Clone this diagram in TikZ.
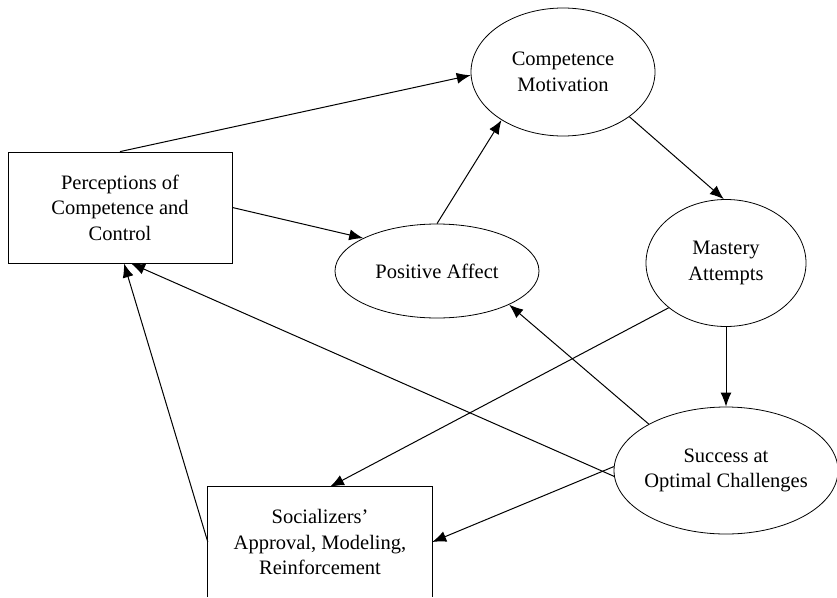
\documentclass[tikz,border=0pt]{standalone}
\usepackage{fontspec}
\setmainfont{Liberation Serif}
\usetikzlibrary{shapes.geometric,arrows.meta,calc}
\begin{document}
\begin{tikzpicture}[x=1pt,y=-1pt,
  every node/.style={font=\fontsize{20.5}{25.5}\selectfont, align=center, inner sep=0pt},
  oval/.style={draw, ellipse, line width=0.8pt, inner xsep=-6pt},
  box/.style={draw, rectangle, line width=0.8pt},
  link/.style={line width=1pt, -{Latex[length=14pt,width=11pt]}}]
\useasboundingbox (0,0) rectangle (837,597);
\clip (0,0) rectangle (837,597);

% boxes
\node[box, minimum width=224pt, minimum height=111pt] (perc) at (120,207.5)
  {Perceptions of\\Competence and\\Control};
\node[minimum width=224pt, minimum height=110pt] (soc) at (320,542)
  {Socializers'\\Approval, Modeling,\\Reinforcement};
\draw[line width=0.8pt] (soc.south west) -- (soc.north west)
  -- (soc.north east) -- (soc.south east);

% ovals
\node[oval, minimum width=184pt, minimum height=128pt] (cm) at (563,72)
  {Competence\\Motivation};
\node[oval, minimum width=204pt, minimum height=94pt] (pa) at (437,271)
  {Positive Affect};
\node[oval, minimum width=160pt, minimum height=127pt] (ma) at (726,263)
  {Mastery\\Attempts};
\node[oval, minimum width=224pt, minimum height=127pt] (suc) at (726,470.5)
  {Success at\\Optimal Challenges};

% connectors
\draw[link] (perc.north) -- (cm.182);
\draw[link] (perc.east) -- (pa.156);
\draw[link] (pa.north) -- (cm.218);
\draw[link] (cm.-34) -- (ma.92);
\draw[link] (ma.south) -- (suc.north);
\draw[link] (ma.218) -- ($(soc.north)+(10,0)$);
\draw[link] (suc.149) -- (pa.-25);
\draw[link] (suc.183) -- ($(perc.south)+(11,0)$);
\draw[link] (suc.178) -- (soc.east);
\draw[link] (soc.west) -- ($(perc.south)+(4,0)$);
\end{tikzpicture}
\end{document}
